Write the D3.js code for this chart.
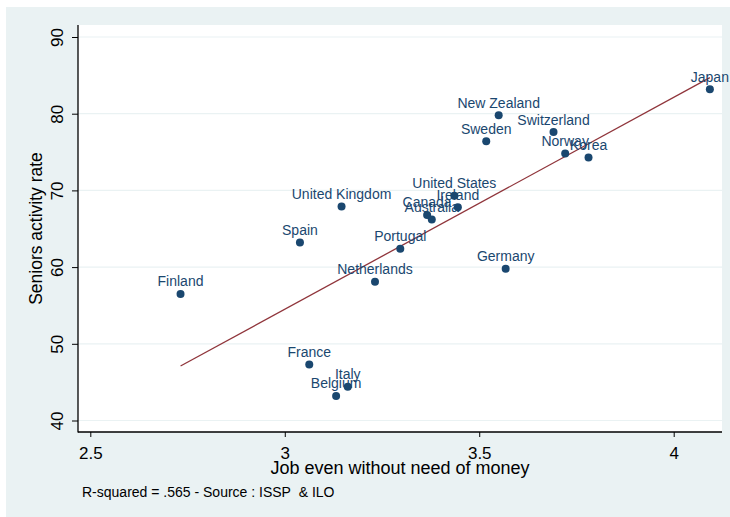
<!DOCTYPE html>
<html>
<head>
<meta charset="utf-8">
<script src="https://cdn.jsdelivr.net/npm/d3@7"></script>
<style>
  body { margin: 0; background: #fff; }
  svg { display: block; font-family: Arial, "Liberation Sans", sans-serif; }
</style>
</head>
<body>
<svg id="chart" width="730" height="517"></svg>
<script>
// values
const countries = [
  'Finland', 'Spain', 'United Kingdom', 'Canada', 'Australia', 'United States',
  'Ireland', 'Portugal', 'Netherlands', 'Germany', 'France', 'Italy', 'Belgium',
  'New Zealand', 'Sweden', 'Switzerland', 'Norway', 'Korea', 'Japan'
]
const jobScore = [
  2.732, 3.039, 3.146, 3.366, 3.378, 3.436,
  3.445, 3.297, 3.232, 3.568, 3.063, 3.162, 3.132,
  3.550, 3.518, 3.691, 3.721, 3.781, 4.093
]
const activityRate = [
  56.5, 63.2, 67.9, 66.8, 66.2, 69.3,
  67.8, 62.4, 58.1, 59.8, 47.3, 44.4, 43.2,
  79.8, 76.4, 77.6, 74.8, 74.3, 83.2
]
// fitted line ends (lfit, from min x to max x)
const fitX = [ 2.732, 4.093 ]
const fitY = [ 47.1, 84.7 ]

const xTicks = [ 2.5, 3, 3.5, 4 ]
const yTicks = [ 40, 50, 60, 70, 80, 90 ]

const xTitle = 'Job even without need of money'
const yTitle = 'Seniors activity rate'
const note = 'R-squared = .565 - Source : ISSP\u00a0 & ILO'

const svg = d3.select('#chart')

const plot = { left: 78, right: 722, top: 25, bottom: 432 }
const navy = '#1a476f', maroon = '#90353b', pale = '#eaf2f3'
const font = 'Arial, "Liberation Sans", sans-serif'

const x = d3.scaleLinear()
    .domain( [ 2.5, 4 ] )
    .range( [ 90.3, 673.7 ] )

const y = d3.scaleLinear()
    .domain( [ 40, 90 ] )
    .range( [ 420.5, 37 ] )

// graph region + plot region
svg.append( 'rect' )
    .attr( 'x', 6 ).attr( 'y', 7 )
    .attr( 'width', 730 - 6 ).attr( 'height', 517 - 7 )
    .style( 'fill', pale )

svg.append( 'rect' )
    .attr( 'x', plot.left ).attr( 'y', plot.top )
    .attr( 'width', plot.right - plot.left ).attr( 'height', plot.bottom - plot.top )
    .style( 'fill', '#fff' )

// grid
svg.append( 'g' )
    .selectAll( 'line' )
    .data( yTicks )
    .join( 'line' )
    .attr( 'x1', plot.left ).attr( 'x2', plot.right )
    .attr( 'y1', d => y( d ) ).attr( 'y2', d => y( d ) )
    .style( 'stroke', pale )
    .style( 'stroke-width', 1.2 )

// axes
const xAxis = d3.axisBottom( x )
    .tickValues( xTicks )
    .tickSize( 5 )
    .tickFormat( d3.format( '' ) )

const gx = svg.append( 'g' )
    .attr( 'transform', `translate(0,${plot.bottom})` )
    .call( xAxis )

gx.select( '.domain' ).remove()
gx.selectAll( 'text' )
    .attr( 'y', 27 ).attr( 'dy', null )
    .style( 'font-size', '17px' )
    .style( 'fill', '#000' )
    .style( 'font-family', font )

const yAxis = d3.axisLeft( y )
    .tickValues( yTicks )
    .tickSize( 6 )
    .tickFormat( d3.format( '' ) )

const gy = svg.append( 'g' )
    .attr( 'transform', `translate(${plot.left},0)` )
    .call( yAxis )

gy.select( '.domain' ).remove()
gy.selectAll( '.tick text' )
    .attr( 'x', null ).attr( 'dy', null )
    .attr( 'transform', 'translate(-15.5,0) rotate(-90)' )
    .attr( 'text-anchor', 'middle' )
    .style( 'font-size', '17px' )
    .style( 'fill', '#000' )
    .style( 'font-family', font )

// axis lines
svg.append( 'line' )
    .attr( 'x1', plot.left ).attr( 'x2', plot.left )
    .attr( 'y1', plot.top ).attr( 'y2', plot.bottom + 0.5 )
    .style( 'stroke', '#000' ).style( 'stroke-width', 1.3 )

svg.append( 'line' )
    .attr( 'x1', plot.left ).attr( 'x2', plot.right )
    .attr( 'y1', plot.bottom ).attr( 'y2', plot.bottom )
    .style( 'stroke', '#000' ).style( 'stroke-width', 1.3 )

// fitted line
svg.append( 'path' )
    .datum( fitX.map( ( v, i ) => [ v, fitY[ i ] ] ) )
    .attr( 'd', d3.line().x( d => x( d[0] ) ).y( d => y( d[1] ) ) )
    .style( 'fill', 'none' )
    .style( 'stroke', maroon )
    .style( 'stroke-width', 1.3 )

// markers + labels
const points = countries.map( ( name, i ) => ( { name, jx: jobScore[ i ], ar: activityRate[ i ] } ) )

svg.append( 'g' )
    .selectAll( 'circle' )
    .data( points )
    .join( 'circle' )
    .attr( 'cx', d => x( d.jx ) )
    .attr( 'cy', d => y( d.ar ) )
    .attr( 'r', 4 )
    .style( 'fill', navy )

svg.append( 'g' )
    .selectAll( 'text' )
    .data( points )
    .join( 'text' )
    .attr( 'x', d => x( d.jx ) )
    .attr( 'y', d => y( d.ar ) - 7.5 )
    .attr( 'text-anchor', 'middle' )
    .style( 'font-size', '14px' )
    .style( 'fill', navy )
    .text( d => d.name )

// titles
svg.append( 'text' )
    .attr( 'x', ( plot.left + plot.right ) / 2 )
    .attr( 'y', 474 )
    .attr( 'text-anchor', 'middle' )
    .style( 'font-size', '18px' )
    .text( xTitle )

svg.append( 'text' )
    .attr( 'transform', `translate(42,${( plot.top + plot.bottom ) / 2}) rotate(-90)` )
    .attr( 'text-anchor', 'middle' )
    .style( 'font-size', '17.5px' )
    .text( yTitle )

svg.append( 'text' )
    .attr( 'x', 82 )
    .attr( 'y', 497 )
    .style( 'font-size', '14px' )
    .text( note )
</script>
</body>
</html>
